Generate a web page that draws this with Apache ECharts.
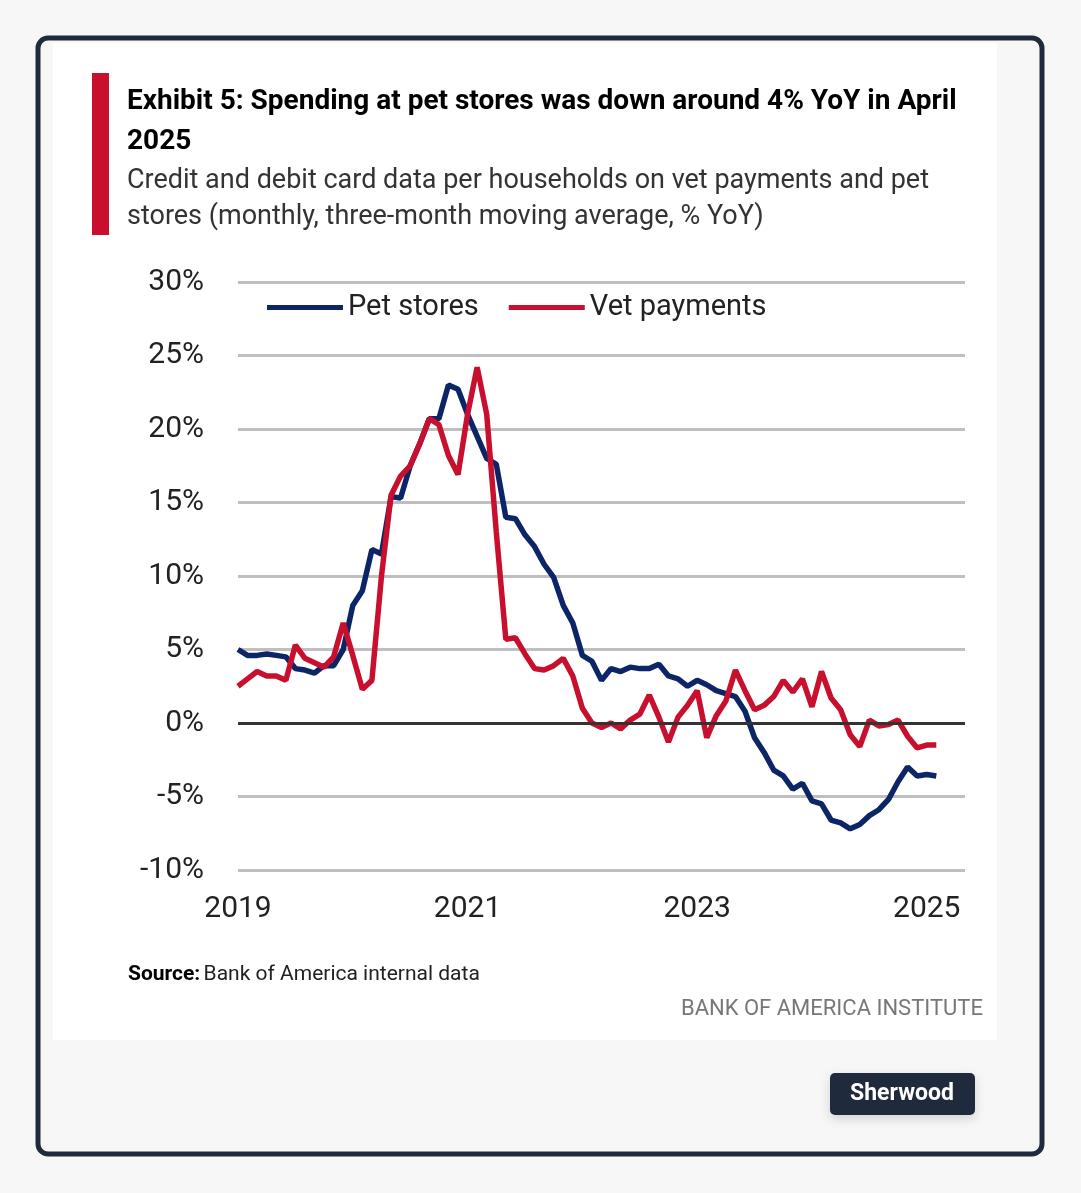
<!DOCTYPE html>
<html>
<head>
<meta charset="utf-8">
<script src="https://cdn.jsdelivr.net/npm/echarts@6/dist/echarts.min.js"></script>
<style>
  html, body { margin: 0; padding: 0; background: #f7f7f7; }
  #chart { width: 1081px; height: 1193px; }
</style>
</head>
<body>
<div id="chart"></div>
<script>
// monthly, starting Jan 2019
const startYear = 2019;
const petStores = [5.0, 4.6, 4.6, 4.7, 4.6, 4.5, 3.7, 3.6, 3.4, 3.9, 3.9, 5.0,
  8.0, 9.0, 11.8, 11.5, 15.4, 15.3, 17.5, 19.0, 20.7, 20.7, 23.0, 22.7,
  21.0, 19.5, 18.0, 17.6, 14.0, 13.9, 12.8, 12.0, 10.8, 9.9, 8.0, 6.8,
  4.6, 4.2, 2.9, 3.7, 3.5, 3.8, 3.7, 3.7, 4.0, 3.2, 3.0, 2.5,
  2.9, 2.6, 2.2, 2.0, 1.8, 0.8, -1.0, -2.0, -3.2, -3.6, -4.5, -4.1,
  -5.3, -5.5, -6.6, -6.8, -7.2, -6.9, -6.3, -5.9, -5.2, -4.0, -3.0, -3.6,
  -3.5, -3.6];
const vetPayments = [2.5, 3.0, 3.5, 3.2, 3.2, 2.9, 5.3, 4.4, 4.1, 3.8, 4.5, 6.8,
  4.6, 2.3, 2.9, 10.0, 15.5, 16.8, 17.5, 19.0, 20.7, 20.3, 18.2, 16.9,
  21.0, 24.2, 21.0, 13.0, 5.7, 5.8, 4.7, 3.7, 3.6, 3.9, 4.4, 3.2,
  1.0, 0.0, -0.3, 0.0, -0.4, 0.2, 0.6, 1.9, 0.4, -1.3, 0.4, 1.2,
  2.2, -1.0, 0.5, 1.5, 3.6, 2.2, 0.9, 1.2, 1.8, 2.9, 2.1, 3.0,
  1.1, 3.5, 1.7, 0.9, -0.8, -1.6, 0.2, -0.2, -0.1, 0.2, -0.9, -1.7,
  -1.5, -1.5];
const yearTicks = [0, 24, 48, 72];

const FONT = "'Liberation Sans Narrow', 'Roboto', sans-serif";
const chart = echarts.init(document.getElementById('chart'));

chart.setOption({
  animation: false,
  backgroundColor: '#f7f7f7',
  graphic: [
    { type: 'rect', shape: { x: 38, y: 38, width: 1004, height: 1116, r: 10 },
      style: { fill: '#f7f7f7', stroke: '#1f2a3c', lineWidth: 5 }, z: -10 },
    { type: 'rect', shape: { x: 53, y: 43, width: 944, height: 997 },
      style: { fill: '#ffffff' }, z: -9 },
    { type: 'rect', shape: { x: 92, y: 73, width: 17, height: 162 },
      style: { fill: '#c8102e' } },
    { type: 'text', left: 127, top: 82, style: {
      text: 'Exhibit 5: Spending at pet stores was down around 4% YoY in April\n2025',
      font: 'bold 28px ' + FONT, fill: '#000', lineHeight: 40 } },
    { type: 'text', left: 127, top: 163, style: {
      text: 'Credit and debit card data per households on vet payments and pet\nstores (monthly, three-month moving average, % YoY)',
      font: '27px ' + FONT, fill: '#333', lineHeight: 36 } },
    { type: 'text', left: 128, top: 964, style: {
      rich: { b: { font: 'bold 21px ' + FONT, fill: '#000' }, n: { font: '21px ' + FONT, fill: '#222' } },
      text: '{b|Source:} {n|Bank of America internal data}' } },
    { type: 'text', right: 98, top: 998, style: {
      text: 'BANK OF AMERICA INSTITUTE', font: '22px ' + FONT, fill: '#777' } },
    { type: 'rect', shape: { x: 830, y: 1073, width: 145, height: 42, r: 5 },
      style: { fill: '#1f2a3c', shadowBlur: 12, shadowColor: 'rgba(0,0,0,0.15)', shadowOffsetY: 4 } },
    { type: 'text', x: 902, y: 1094, style: {
      text: 'Sherwood', font: 'bold 23px Roboto, sans-serif', fill: '#fff', align: 'center', verticalAlign: 'middle' } }
  ],
  legend: {
    left: 262, top: 288, itemWidth: 76, itemHeight: 5, itemGap: 30,
    icon: 'rect',
    textStyle: { fontFamily: FONT, fontSize: 29, color: '#222' },
    data: ['Pet stores', 'Vet payments']
  },
  grid: { left: 238, right: 116, top: 282, bottom: 323 },
  xAxis: {
    type: 'value', min: 0, max: 76, interval: 24,
    axisLine: { show: false }, axisTick: { show: false }, splitLine: { show: false },
    axisLabel: {
      fontFamily: FONT, fontSize: 30, color: '#222', margin: 24,
      showMaxLabel: false,
      formatter: v => yearTicks.includes(v) ? String(startYear + v / 12) : ''
    }
  },
  yAxis: {
    type: 'value', min: -10, max: 30, interval: 5,
    axisLine: { show: false }, axisTick: { show: false },
    splitLine: { lineStyle: { color: '#bfbfbf', width: 3 } },
    axisLabel: { fontFamily: FONT, fontSize: 30, color: '#222', margin: 34, formatter: '{value}%' }
  },
  series: [
    { name: 'Pet stores', type: 'line', showSymbol: false, color: '#0b2566',
      lineStyle: { width: 5.5 }, data: petStores.map((v, i) => [i, v]),
      markLine: { silent: true, symbol: 'none', label: { show: false },
        lineStyle: { color: '#333', width: 3, type: 'solid' }, data: [{ yAxis: 0 }] } },
    { name: 'Vet payments', type: 'line', showSymbol: false, color: '#c8102e',
      lineStyle: { width: 5.5 }, data: vetPayments.map((v, i) => [i, v]) }
  ]
});
</script>
</body>
</html>
